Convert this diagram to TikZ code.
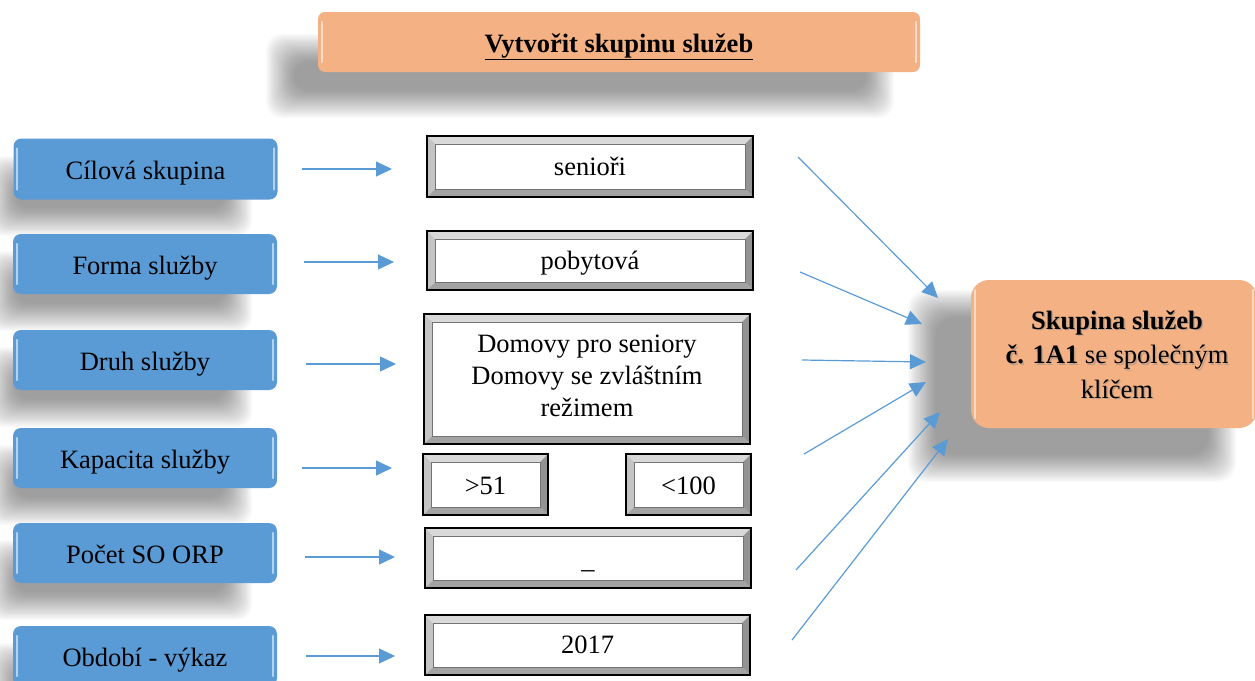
\documentclass[tikz,border=0pt]{standalone}
\usepackage{fontspec}
\setmainfont{Liberation Serif}
\usetikzlibrary{arrows.meta,calc}
\definecolor{blu}{HTML}{5B9BD5}
\definecolor{ora}{HTML}{F4B183}
\definecolor{bevT}{HTML}{D9D9D9}
\definecolor{bevL}{HTML}{C4C4C4}
\definecolor{bevB}{HTML}{A3A3A3}
\definecolor{bevR}{HTML}{939393}
\newcommand\softshadow[5]{%
  \foreach \i in {0,...,23}{%
    \fill[black,opacity=0.02,rounded corners=#5] ({#1+1.2*\i},{#2+1.2*\i}) rectangle ({#3-1.2*\i},{#4-1.2*\i});
  }}
\newcommand\bevelframe[1]{%
  \fill[bevT] (#1.north west) -- (#1.north east) -- ([shift={(-8,8)}]#1.north east) -- ([shift={(8,8)}]#1.north west) -- cycle;
  \fill[bevL] (#1.north west) -- ([shift={(8,8)}]#1.north west) -- ([shift={(8,-8)}]#1.south west) -- (#1.south west) -- cycle;
  \fill[bevB] (#1.south west) -- ([shift={(8,-8)}]#1.south west) -- ([shift={(-8,-8)}]#1.south east) -- (#1.south east) -- cycle;
  \fill[bevR] (#1.north east) -- (#1.south east) -- ([shift={(-8,-8)}]#1.south east) -- ([shift={(-8,8)}]#1.north east) -- cycle;
  \draw[black!55, line width=0.6pt] ([shift={(8,8)}]#1.north west) rectangle ([shift={(-8,-8)}]#1.south east);
  \draw[black, line width=2.5pt] (#1.north west) rectangle (#1.south east);
}
\newcommand\gloss[1]{%
  \draw[white, opacity=0.55, line width=2pt, line cap=round] ([shift={(4,10)}]#1.north west) -- ([shift={(4,-10)}]#1.south west);
  \draw[white, opacity=0.55, line width=2pt, line cap=round] ([shift={(-4,10)}]#1.north east) -- ([shift={(-4,-10)}]#1.south east);
}
\tikzset{
  lbox/.style={rectangle, rounded corners=8pt, fill=blu, minimum width=264pt, minimum height=60pt, inner sep=0pt},
  vbox/.style={rectangle, fill=white, inner sep=0pt, align=center},
  obox/.style={rectangle, fill=ora, inner sep=0pt, align=center},
  lbl/.style={anchor=base, inner sep=0pt},
  conn/.style={draw=blu, line width=1.2pt, -{Triangle[length=16pt,width=15pt]}},
}
\begin{document}
\begin{tikzpicture}[x=1pt,y=-1pt, font=\fontsize{26.5}{32}\selectfont]
\useasboundingbox (0,0) rectangle (1255,680);
\clip (0,0) rectangle (1255,680);

% shadows
\softshadow{266}{34}{894}{118}{16}
\softshadow{-12}{156}{252}{236}{14}
\softshadow{-12}{251}{252}{331}{14}
\softshadow{-12}{347}{252}{427}{14}
\softshadow{-12}{445}{252}{525}{14}
\softshadow{-12}{540}{252}{620}{14}
\softshadow{-12}{643}{252}{723}{14}
\softshadow{908}{290}{1236}{482}{18}

% title
\node[obox, rounded corners=7pt, minimum width=602pt, minimum height=60pt] (t) at (619,42) {};
\gloss{t}
\node[lbl] at (619,52) {\textbf{\underline{Vytvořit skupinu služeb}}};

% left boxes
\node[lbox, minimum height=61pt] (l1) at (145.5,169) {};
\node[lbox] (l2) at (145,264) {};
\node[lbox] (l3) at (145,360) {};
\node[lbox] (l4) at (145,458) {};
\node[lbox] (l5) at (145,553) {};
\node[lbox] (l6) at (145,656) {};
\foreach \n in {l1,l2,l3,l4,l5,l6}{\gloss{\n}}
\node[lbl] at (145.5,179) {Cílová skupina};
\node[lbl] at (145,274) {Forma služby};
\node[lbl] at (145,370) {Druh služby};
\node[lbl] at (145,468) {Kapacita služby};
\node[lbl] at (145,563) {Počet SO ORP};
\node[lbl] at (145,666) {Období - výkaz};

% middle boxes
\node[vbox, minimum width=326pt, minimum height=61pt] (m1) at (590,166.5) {};
\node[vbox, minimum width=326pt, minimum height=59pt] (m2) at (590,260.5) {};
\node[vbox, minimum width=326pt, minimum height=130pt] (m3) at (587,379) {};
\node[vbox, minimum width=125pt, minimum height=61pt] (m4a) at (485.5,484.5) {};
\node[vbox, minimum width=125pt, minimum height=61pt] (m4b) at (688.5,484.5) {};
\node[vbox, minimum width=326pt, minimum height=60pt] (m5) at (588,558) {};
\node[vbox, minimum width=325pt, minimum height=60pt] (m6) at (587.5,645) {};
\foreach \n in {m1,m2,m3,m4a,m4b,m5,m6}{\bevelframe{\n}}
\node[lbl] at (590,175) {senioři};
\node[lbl] at (590,269) {pobytová};
\node[lbl, align=center] at (587,416) {Domovy pro seniory\\Domovy se zvláštním\\režimem};
\node[lbl] at (485.5,494) {>51};
\node[lbl] at (688.5,494) {<100};
\node[lbl] at (588,568) {\_};
\node[lbl] at (587.5,653) {2017};

% right box
\node[obox, rounded corners=18pt, minimum width=286pt, minimum height=148pt] (r) at (1114,354) {};
\gloss{r}
\node[lbl, align=center, text=black!45, opacity=0.5, font=\fontsize{26.5}{34.5}\selectfont] at (1118.5,399.5) {\textbf{Skupina služeb}\\\textbf{č. 1A1} se společným\\klíčem};
\node[lbl, align=center, font=\fontsize{26.5}{34.5}\selectfont] at (1117,398) {\textbf{Skupina služeb}\\\textbf{č. 1A1} se společným\\klíčem};

% left arrows
\coordinate (a1s) at (302,169); \coordinate (a1e) at (392,169);
\coordinate (a2s) at (304,262); \coordinate (a2e) at (394,262);
\coordinate (a3s) at (306,364); \coordinate (a3e) at (396,364);
\coordinate (a4s) at (302,468); \coordinate (a4e) at (392,468);
\coordinate (a5s) at (305,557); \coordinate (a5e) at (395,557);
\coordinate (a6s) at (306,656); \coordinate (a6e) at (395,656);
\foreach \k in {1,...,6}{\draw[conn] (a\k s) -- (a\k e);}

% right arrows
\coordinate (b1s) at (798,157); \coordinate (b1e) at (938,298);
\coordinate (b2s) at (800,272); \coordinate (b2e) at (922,324);
\coordinate (b3s) at (802,360); \coordinate (b3e) at (926,362);
\coordinate (b4s) at (804,454); \coordinate (b4e) at (926,382);
\coordinate (b5s) at (796,570); \coordinate (b5e) at (940,412);
\coordinate (b6s) at (792,640); \coordinate (b6e) at (948,439);
\foreach \k in {1,...,6}{\draw[conn] (b\k s) -- (b\k e);}
\end{tikzpicture}
\end{document}
